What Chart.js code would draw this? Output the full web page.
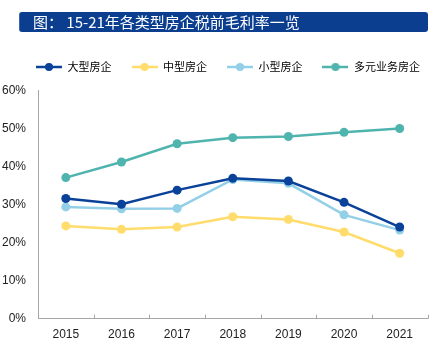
<!DOCTYPE html>
<html>
<head>
<meta charset="utf-8">
<script src="https://cdn.jsdelivr.net/npm/chart.js@4"></script>
<style>
  html, body { margin: 0; padding: 0; background: #fff; }
  #wrap { position: relative; width: 432px; height: 351px; overflow: hidden; }
  #banner {
    position: absolute; left: 19px; top: 12px; width: 409px; height: 20px;
    background: #0b3e8f; border-radius: 3px; box-sizing: border-box;
    border-left: 1px solid #3a64a8;
    color: #fff; font-family: "Noto Sans CJK SC", sans-serif; font-size: 15px;
    line-height: 20px; padding-left: 13px; white-space: pre; z-index: 2;
  }
  #c { position: absolute; left: 0; top: 0; }
</style>
</head>
<body>
<div id="wrap">
  <div id="banner">图： 15-21年各类型房企税前毛利率一览</div>
  <canvas id="c" width="432" height="351"></canvas>
</div>
<script>
const years = ['2015', '2016', '2017', '2018', '2019', '2020', '2021'];
const seriesNames = ['大型房企', '中型房企', '小型房企', '多元业务房企'];
const large = [31.6, 30.1, 33.8, 36.9, 36.2, 30.6, 24.1];
const medium = [24.4, 23.5, 24.1, 26.8, 26.1, 22.8, 17.2];
const small = [29.4, 28.9, 29.0, 36.6, 35.6, 27.3, 23.3];
const diversified = [37.1, 41.2, 46.0, 47.6, 47.9, 49.0, 50.0];
const yTicks = [0, 10, 20, 30, 40, 50, 60];

const colors = ['#0a4199', '#ffdc6b', '#93d0e8', '#4fb4ae'];
const values = [large, medium, small, diversified];

function legendIcon(color) {
  const cv = document.createElement('canvas');
  cv.width = 26; cv.height = 10;
  const g = cv.getContext('2d');
  g.strokeStyle = color; g.lineWidth = 2.5;
  g.beginPath(); g.moveTo(0, 5); g.lineTo(26, 5); g.stroke();
  g.fillStyle = color;
  g.beginPath(); g.arc(13, 5, 4, 0, Math.PI * 2); g.fill();
  return cv;
}
const icons = colors.map(legendIcon);

const legendTweak = {
  id: 'legendTweak',
  beforeUpdate(chart) {
    const lg = chart.legend;
    if (lg && !lg._patched) {
      const origFit = lg.fit;
      lg.fit = function () { origFit.call(this); this.height += 8; };
      lg._patched = true;
    }
  },
  afterLayout(chart) {
    const lg = chart.legend;
    if (lg) { lg.left += 14; lg.right += 14; }
  }
};

const upTicks = {
  id: 'upTicks',
  afterDraw(chart) {
    const xs = chart.scales.x, ctx = chart.ctx;
    const bottom = chart.chartArea.bottom;
    ctx.save();
    ctx.strokeStyle = '#a6a6a6'; ctx.lineWidth = 1;
    for (let i = 1; i <= years.length; i++) {
      const px = Math.round(xs.getPixelForValue(i - 0.5)) + 0.5;
      ctx.beginPath(); ctx.moveTo(px, bottom); ctx.lineTo(px, bottom - 4); ctx.stroke();
    }
    ctx.restore();
  }
};

new Chart(document.getElementById('c'), {
  type: 'line',
  data: {
    labels: years,
    datasets: seriesNames.map((n, i) => ({
      label: n,
      data: values[i],
      borderColor: colors[i],
      backgroundColor: colors[i],
      borderWidth: 2.5,
      pointRadius: 4.5,
      pointHoverRadius: 4.5,
      pointBorderWidth: 0,
      tension: 0
    }))
  },
  options: {
    responsive: false,
    animation: false,
    devicePixelRatio: 1,
    layout: { padding: { top: 41.5, right: 4, left: 0, bottom: 0 } },
    plugins: {
      tooltip: { enabled: false },
      legend: {
        position: 'top',
        labels: {
          usePointStyle: true,
          pointStyleWidth: 26,
          padding: 20,
          color: '#333',
          font: { family: '"Noto Sans CJK SC", sans-serif', size: 11 },
          generateLabels(chart) {
            return chart.data.datasets.map((d, i) => ({
              text: d.label,
              pointStyle: icons[i],
              fillStyle: colors[i],
              strokeStyle: colors[i],
              lineWidth: 0,
              hidden: false,
              datasetIndex: i
            }));
          }
        }
      }
    },
    scales: {
      x: {
        offset: true,
        grid: { display: false, drawTicks: false },
        border: { display: true, color: '#a6a6a6', width: 1 },
        ticks: {
          padding: 9,
          color: '#222',
          font: { family: '"Liberation Sans", sans-serif', size: 12 }
        },
        afterFit(s) { s.height = 32.3; }
      },
      y: {
        min: 0, max: 60,
        grid: { display: false, drawTicks: false },
        border: { display: true, color: '#a6a6a6', width: 1 },
        afterBuildTicks(s) { s.ticks = yTicks.map(v => ({ value: v })); },
        ticks: {
          padding: 12,
          color: '#222',
          font: { family: '"Liberation Sans", sans-serif', size: 12 },
          callback: v => v + '%'
        },
        afterFit(s) { s.width = 38; }
      }
    }
  },
  plugins: [legendTweak, upTicks]
});
</script>
</body>
</html>
